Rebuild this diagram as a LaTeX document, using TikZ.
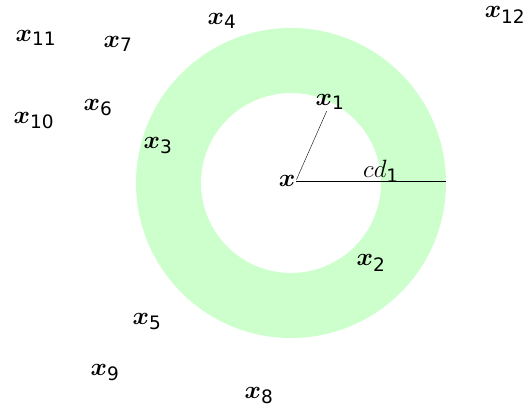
\RequirePackage{fix-cm}
\documentclass[tikz,border=0pt]{standalone}
\usepackage{amsmath}
\usepackage{bm}
\usepackage{fontspec}
\newfontfamily\subfont{DejaVu Sans}
\usetikzlibrary{calc}
\definecolor{ringgreen}{HTML}{CCFFCC}
\newcommand{\sub}[1]{_{\text{\subfont\fontsize{18.5}{22}\selectfont #1}}}
\newcommand{\pt}[1]{\bm{x}\sub{#1}}
\tikzset{
  ptlabel/.style={inner sep=1pt, font=\fontsize{25}{30}\selectfont},
}

\begin{document}
\begin{tikzpicture}[x=1pt, y=1pt]
  \useasboundingbox (0,0) rectangle (529,412);

  % Ring
  \fill[ringgreen, even odd rule] (291,229) circle (155) (291,229) circle (90);

  % Points
  \node[ptlabel] (x)   at (287,231) {$\bm{x}$};
  \node[ptlabel] (x1)  at (330,310) {$\pt{1}$};
  \node[ptlabel] (x2)  at (371,149) {$\pt{2}$};
  \node[ptlabel] (x3)  at (158,266) {$\pt{3}$};
  \node[ptlabel] (x4)  at (222,391) {$\pt{4}$};
  \node[ptlabel] (x5)  at (147,90)  {$\pt{5}$};
  \node[ptlabel] (x6)  at (98,304)  {$\pt{6}$};
  \node[ptlabel] (x7)  at (118,368) {$\pt{7}$};
  \node[ptlabel] (x8)  at (259,16)  {$\pt{8}$};
  \node[ptlabel] (x9)  at (105,39)  {$\pt{9}$};
  \node[ptlabel] (x10) at (34,291)  {$\pt{10}$};
  \node[ptlabel] (x11) at (36,374)  {$\pt{11}$};
  \node[ptlabel] (x12) at (505,397) {$\pt{12}$};

  % Radius
  \coordinate (rim) at (446,231);
  \draw (x.8) -- (x1.250);
  \draw (x.east) -- (rim);
  \node[ptlabel] (cd) at (381,241) {$cd\sub{1}$};

\end{tikzpicture}
\end{document}
